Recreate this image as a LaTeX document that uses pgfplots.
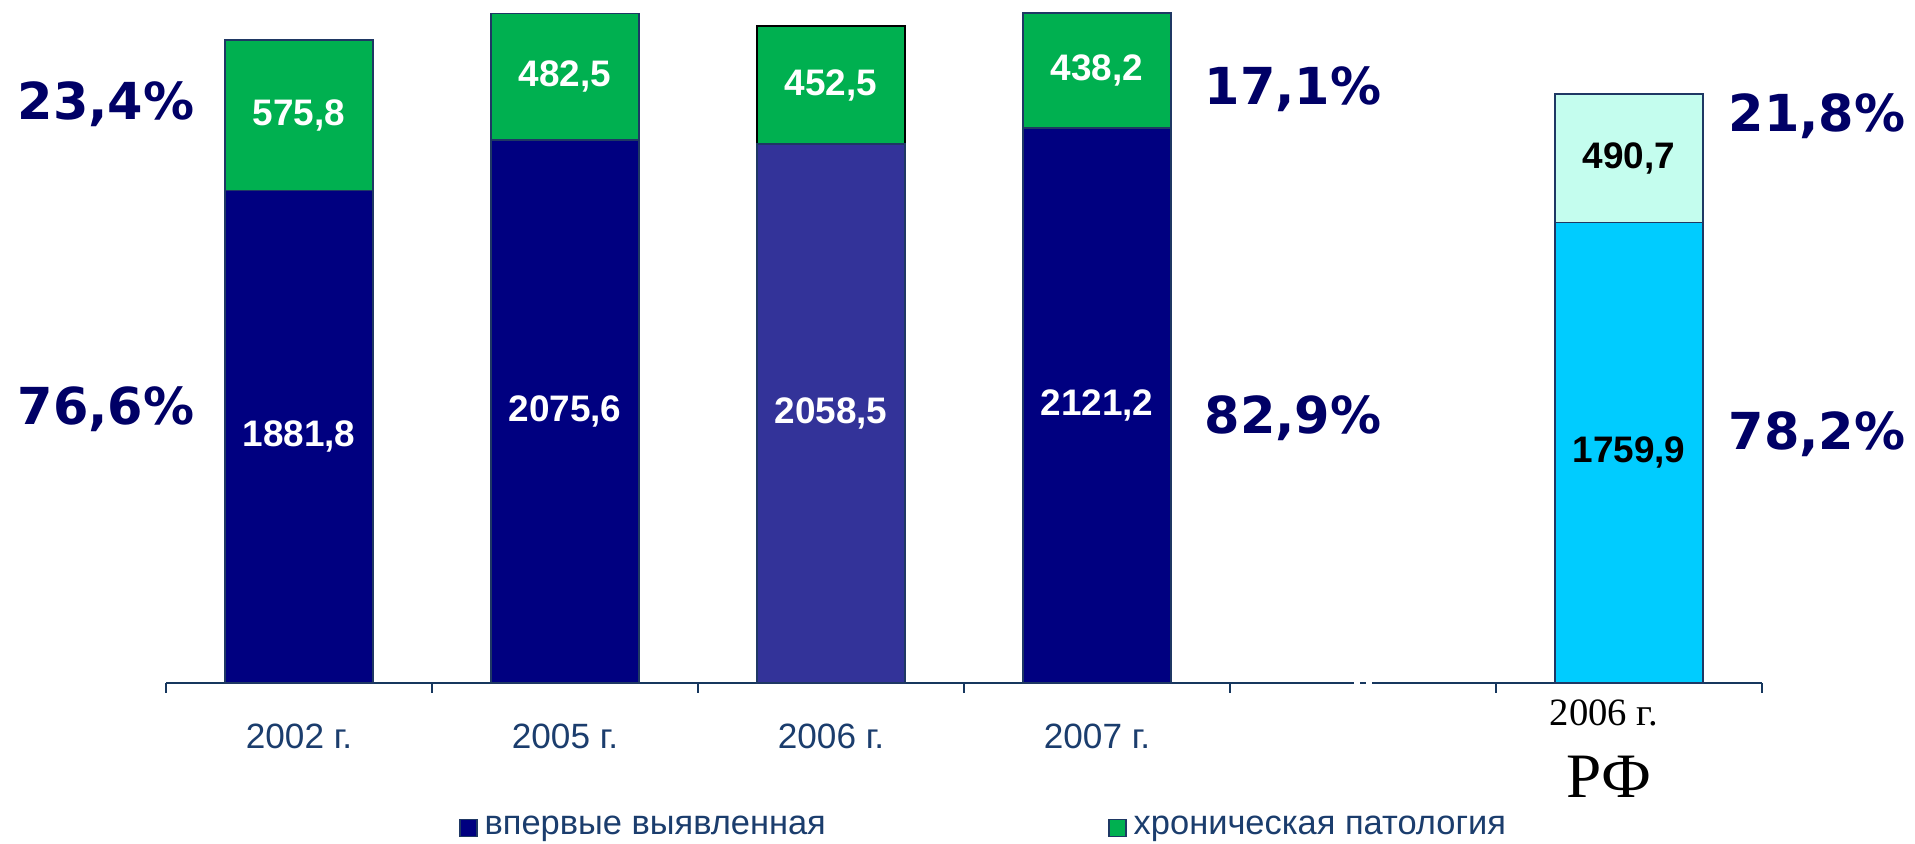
\documentclass[border=0pt]{standalone}
\usepackage{fontspec}
\setmainfont{Liberation Sans}
\newfontfamily\serifru{Liberation Serif}
\newfontfamily\pctfont{DejaVu Sans}
\usepackage{pgfplots}
\pgfplotsset{compat=1.18}
\definecolor{navy}{HTML}{000080}
\definecolor{blueb}{HTML}{333399}
\definecolor{cyanb}{HTML}{00CCFF}
\definecolor{greenb}{HTML}{00B050}
\definecolor{lcyan}{HTML}{C4FDEE}
\definecolor{bord}{HTML}{1F3864}
\definecolor{axblue}{HTML}{17375E}
\definecolor{lblue}{HTML}{1B3D6D}
\definecolor{pctblue}{HTML}{000066}
\pgfplotsset{sqlegend/.style={legend image code/.code={\draw[##1] (0mm,-0.85mm) rectangle (1.7mm,0.85mm);}}}
\tikzset{val/.style={font=\bfseries\fontsize{10.5}{12}\selectfont,text=white},
  pct/.style={font=\pctfont\bfseries\fontsize{14.5}{16}\selectfont,text=pctblue}}

\begin{document}
\begin{tikzpicture}
\path[use as bounding box] (-16.6mm,-16.1mm) rectangle (174.9mm,68.3mm);
\begin{axis}[
  scale only axis,width=159.6mm,height=68.3mm,
  xmin=-0.5,xmax=5.5,ymin=0,ymax=2610,
  ybar stacked,bar width=14.8mm,
  axis x line*=bottom,axis y line=none,
  axis line style={draw=axblue,line width=0.75pt},
  xtick={0,1,2,3},
  xticklabels={2002 г.,2005 г.,2006 г.,2007 г.},
  xticklabel style={font=\fontsize{10}{11}\selectfont,text=lblue,anchor=base,yshift=-6.6mm},
  major tick length=0pt,
  minor xtick={-0.5,0.5,...,5.5},
  minor tick length=1mm,
  tick align=outside,
  tick style={draw=axblue,line width=0.75pt},
  ytick=\empty,
  clip=false,
  legend columns=2,
  legend style={at={(axis cs:0.598,0)},yshift=-14.5mm,anchor=west,draw=none,fill=none,inner sep=0pt,
    font=\fontsize{9.8}{11}\selectfont,text=lblue,
    /tikz/every even column/.append style={column sep=27.5mm}},
]
\addlegendimage{fill=navy,draw=bord,line width=0.5pt,sqlegend}
\addlegendimage{fill=greenb,draw=bord,line width=0.5pt,sqlegend}
\legend{впервые выявленная,хроническая патология}

% bottom segments
\addplot[fill=navy,draw=bord,line width=0.5pt] coordinates {(0,1881.8) (1,2075.6) (2,0) (3,2121.2) (5,0)};
\addplot[fill=blueb,draw=bord,line width=0.5pt] coordinates {(0,0) (1,0) (2,2058.5) (3,0) (5,0)};
\addplot[fill=cyanb,draw=bord,line width=0.5pt] coordinates {(0,0) (1,0) (2,0) (3,0) (5,1759.9)};
% top segments
\addplot[fill=greenb,draw=bord,line width=0.5pt] coordinates {(0,575.8) (1,482.5) (2,0) (3,438.2) (5,0)};
\addplot[fill=greenb,draw=black,line width=0.7pt] coordinates {(0,0) (1,0) (2,452.5) (3,0) (5,0)};
\addplot[fill=lcyan,draw=bord,line width=0.5pt] coordinates {(0,0) (1,0) (2,0) (3,0) (5,490.7)};

% anchor points for the labels, drawn after the axis so they sit above the bars
\coordinate (b0) at (axis cs:0,940.9);
\coordinate (b1) at (axis cs:1,1037.8);
\coordinate (b2) at (axis cs:2,1029.3);
\coordinate (b3) at (axis cs:3,1060.6);
\coordinate (b5) at (axis cs:5,880);
\coordinate (t0) at (axis cs:0,2169.7);
\coordinate (t1) at (axis cs:1,2316.9);
\coordinate (t2) at (axis cs:2,2284.8);
\coordinate (t3) at (axis cs:3,2340.3);
\coordinate (t5) at (axis cs:5,2005.3);
\coordinate (brk) at (axis cs:4,0);
\end{axis}
\node[val] at (b0) {1881,8};
\node[val] at (b1) {2075,6};
\node[val] at (b2) {2058,5};
\node[val] at (b3) {2121,2};
\node[val,text=black] at (b5) {1759,9};
\node[val] at (t0) {575,8};
\node[val] at (t1) {482,5};
\node[val] at (t2) {452,5};
\node[val] at (t3) {438,2};
\node[val,text=black] at (t5) {490,7};

% shares
\node[pct] at (-6.0mm,57.9mm) {23,4\%};
\node[pct] at (-6.0mm,27.4mm) {76,6\%};
\node[pct] at (112.7mm,59.4mm) {17,1\%};
\node[pct] at (112.7mm,26.5mm) {82,9\%};
\node[pct] at (165.1mm,56.7mm) {21,8\%};
\node[pct] at (165.1mm,24.9mm) {78,2\%};

% axis break
\draw[white,line width=2pt] ([xshift=-0.9mm]brk) -- ([xshift=0.9mm]brk);
\draw[axblue,line width=0.75pt] ([xshift=-0.3mm]brk) -- ([xshift=0.3mm]brk);

% RF label
\node[anchor=base,font=\serifru\fontsize{11}{12}\selectfont] at (143.8mm,-4.3mm) {2006 г.};
\node[anchor=base,font=\serifru\fontsize{18}{20}\selectfont] at (144.3mm,-11.5mm) {РФ};
\end{tikzpicture}
\end{document}
